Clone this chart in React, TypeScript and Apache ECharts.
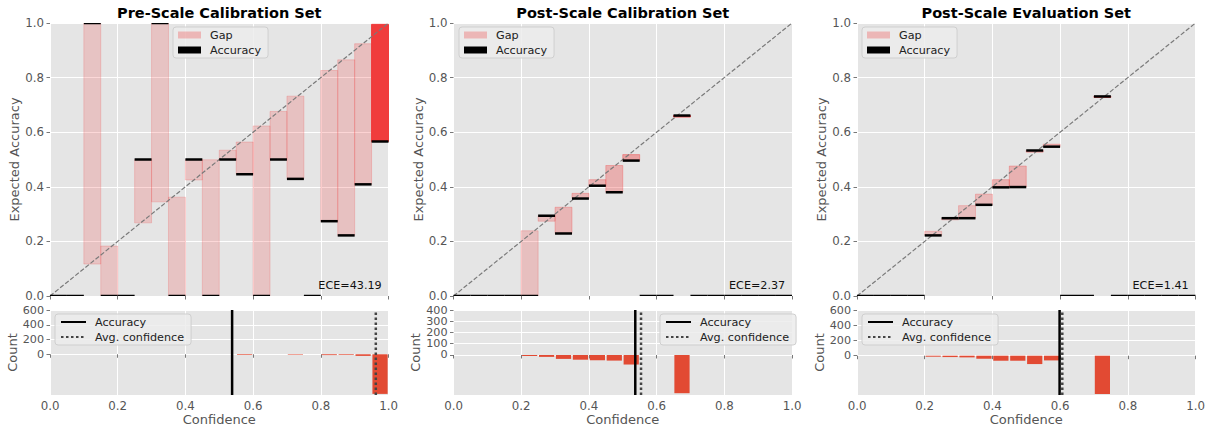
import React, { useEffect, useRef } from "react";
import * as echarts from "echarts";

// ---------------- data ----------------
const BIN_LOWER = [0.0, 0.05, 0.1, 0.15, 0.2, 0.25, 0.3, 0.35, 0.4, 0.45, 0.5, 0.55, 0.6, 0.65, 0.7, 0.75, 0.8, 0.85, 0.9, 0.95];
const BIN_WIDTH = 0.05;

const PANEL_TITLES = ["Pre-Scale Calibration Set", "Post-Scale Calibration Set", "Post-Scale Evaluation Set"];

const PRE_CONF = [0, 0, 0.117, 0.183, 0, 0.268, 0.345, 0.362, 0.425, 0.499, 0.534, 0.564, 0.623, 0.676, 0.732, 0, 0.826, 0.865, 0.924, 0.995];
const PRE_ACC = [0, 0, 1.0, 0, 0, 0.5, 1.0, 0, 0.5, 0, 0.5, 0.446, 0, 0.5, 0.429, 0, 0.274, 0.222, 0.409, 0.566];
const PRE_COUNT = [0, 0, 1, 1, 0, 2, 1, 1, 2, 1, 2, 9, 1, 2, 7, 0, 11, 9, 22, 537];

const CAL_CONF = [0, 0, 0, 0, 0.239, 0.274, 0.325, 0.376, 0.426, 0.478, 0.518, 0, 0, 0.656, 0, 0, 0, 0, 0, 0];
const CAL_ACC = [0, 0, 0, 0, 0, 0.294, 0.229, 0.357, 0.404, 0.38, 0.496, 0, 0, 0.661, 0, 0, 0, 0, 0, 0];
const CAL_COUNT = [0, 0, 0, 0, 9, 17, 35, 42, 47, 50, 85, 0, 0, 340, 0, 0, 0, 0, 0, 0];

const EVAL_CONF = [0, 0, 0, 0, 0.237, 0.279, 0.331, 0.373, 0.426, 0.476, 0.527, 0.556, 0, 0, 0.728, 0, 0, 0, 0, 0];
const EVAL_ACC = [0, 0, 0, 0, 0.222, 0.285, 0.285, 0.334, 0.398, 0.399, 0.533, 0.547, 0, 0, 0.731, 0, 0, 0, 0, 0];
const EVAL_COUNT = [0, 0, 0, 0, 13, 18, 22, 40, 66, 66, 110, 62, 0, 0, 503, 0, 0, 0, 0, 0];

const ECE_VALUES = ["43.19", "2.37", "1.41"];
const AVG_ACCURACY = [0.538, 0.537, 0.5985];
const AVG_CONFIDENCE = [0.9625, 0.554, 0.6065];

const ACC_TICKS = [0, 0.2, 0.4, 0.6, 0.8, 1.0];
const COUNT_TICKS = [
  [0, 200, 400, 600],
  [0, 100, 200, 300, 400],
  [0, 200, 400, 600],
];
const COUNT_MIN = [-552, -356, -516];
const COUNT_MAX = [600, 400, 600];

// ---------------- layout / style ----------------
const FONT = "DejaVu Sans";
const GRID_LEFT = [50, 453.5, 857];
const GRID_W = 338.5;
const TOP_Y = 23;
const TOP_H = 273;
const BOT_Y = 310;
const BOT_H = 85;
const TOP_LEGEND_LEFT = [173, 459, 862];
const BOT_LEGEND_LEFT = [55, 660, 862];
const BG = "#E5E5E5";
const TICK_COLOR = "#555555";
const TICK_FS = 11.8;
const COUNT_FS = 11.2;
const LABEL_FS = 13;
const LEGEND_FS = 11.2;

function buildOption() {
  const panels = [
    { conf: PRE_CONF, acc: PRE_ACC, count: PRE_COUNT },
    { conf: CAL_CONF, acc: CAL_ACC, count: CAL_COUNT },
    { conf: EVAL_CONF, acc: EVAL_ACC, count: EVAL_COUNT },
  ];

  const grid: any[] = [];
  const xAxis: any[] = [];
  const yAxis: any[] = [];
  const series: any[] = [];
  const legend: any[] = [];
  const title: any[] = [];
  const graphic: any[] = [];

  const tickStyle = { show: true, length: 3.5, inside: false, lineStyle: { color: TICK_COLOR, width: 0.8 } };
  const splitStyle = { show: true, lineStyle: { color: "#ffffff", width: 1 } };

  panels.forEach((p, i) => {
    const gTop = 2 * i;
    const gBot = 2 * i + 1;
    grid.push({ left: GRID_LEFT[i], top: TOP_Y, width: GRID_W, height: TOP_H, show: true, backgroundColor: BG, borderWidth: 0 });
    grid.push({ left: GRID_LEFT[i], top: BOT_Y, width: GRID_W, height: BOT_H, show: true, backgroundColor: BG, borderWidth: 0 });

    xAxis.push({
      type: "value", gridIndex: gTop, min: 0, max: 1, interval: 0.2,
      axisLine: { show: false }, axisTick: tickStyle,
      axisLabel: { show: false }, splitLine: splitStyle,
    });
    xAxis.push({
      type: "value", gridIndex: gBot, min: 0, max: 1, interval: 0.2,
      axisLine: { show: false }, axisTick: tickStyle,
      axisLabel: {
        show: true, color: TICK_COLOR, fontSize: TICK_FS, fontFamily: FONT, margin: 5,
        showMinLabel: true, showMaxLabel: true,
        formatter: (v: number) => v.toFixed(1),
      },
      splitLine: splitStyle,
      name: "Confidence", nameLocation: "middle", nameGap: 17,
      nameTextStyle: { color: TICK_COLOR, fontSize: LABEL_FS, fontFamily: FONT },
    });
    yAxis.push({
      type: "value", gridIndex: gTop, min: ACC_TICKS[0], max: ACC_TICKS[ACC_TICKS.length - 1], interval: 0.2,
      axisLine: { show: false }, axisTick: tickStyle,
      axisLabel: { color: TICK_COLOR, fontSize: TICK_FS, fontFamily: FONT, margin: 6, formatter: (v: number) => v.toFixed(1) },
      splitLine: splitStyle,
      name: "Expected Accuracy", nameLocation: "middle", nameGap: 28,
      nameTextStyle: { color: TICK_COLOR, fontSize: LABEL_FS, fontFamily: FONT },
    });
    yAxis.push({
      type: "value", gridIndex: gBot, min: COUNT_MIN[i], max: COUNT_MAX[i],
      axisLine: { show: false },
      axisTick: { ...tickStyle, customValues: COUNT_TICKS[i] },
      axisLabel: {
        color: TICK_COLOR, fontSize: COUNT_FS, lineHeight: 10, fontFamily: FONT, margin: 6,
        hideOverlap: false, showMinLabel: true, showMaxLabel: true,
        customValues: COUNT_TICKS[i], formatter: (v: number) => String(Math.abs(v)),
      },
      splitLine: splitStyle,
      name: "Count", nameLocation: "middle", nameGap: 30,
      nameTextStyle: { color: TICK_COLOR, fontSize: LABEL_FS, fontFamily: FONT },
    });

    const maxCount = Math.max(...p.count);

    series.push({
      type: "custom", name: "Gap", xAxisIndex: gTop, yAxisIndex: gTop, clip: true, z: 2,
      itemStyle: { color: "rgba(240,60,60,0.3)" },
      encode: { x: [0, 1], y: [2, 3] },
      data: BIN_LOWER.map((lo, k) => [lo, lo + BIN_WIDTH, Math.min(p.acc[k], p.conf[k]), Math.max(p.acc[k], p.conf[k]), 0.2 + 0.8 * (p.count[k] / maxCount)])
        .filter((_, k) => p.count[k] > 0),
      renderItem: (params: any, api: any) => {
        const a = api.coord([api.value(0), api.value(3)]);
        const b = api.coord([api.value(1), api.value(2)]);
        const c = `rgba(240,60,60,${api.value(4)})`;
        return {
          type: "rect",
          shape: { x: a[0], y: a[1], width: b[0] - a[0], height: b[1] - a[1] },
          style: { fill: c, stroke: c, lineWidth: 1 },
        };
      },
    });
    series.push({
      type: "line", name: "perfect", xAxisIndex: gTop, yAxisIndex: gTop, z: 3, silent: true,
      symbol: "none", data: [[0, 0], [1, 1]],
      lineStyle: { color: "#7a7a7a", width: 1.2, type: [4.5, 2] },
    });
    series.push({
      type: "custom", name: "Accuracy", xAxisIndex: gTop, yAxisIndex: gTop, clip: true, z: 4,
      itemStyle: { color: "#000000" },
      encode: { x: [0, 1], y: 2 },
      data: BIN_LOWER.map((lo, k) => [lo, lo + BIN_WIDTH, p.acc[k]]),
      renderItem: (params: any, api: any) => {
        const a = api.coord([api.value(0), api.value(2)]);
        const b = api.coord([api.value(1), api.value(2)]);
        return {
          type: "rect",
          shape: { x: a[0], y: a[1] - 1.25, width: b[0] - a[0], height: 2.5 },
          style: { fill: "#000000" },
        };
      },
    });
    series.push({
      type: "custom", name: "Count", xAxisIndex: gBot, yAxisIndex: gBot, clip: true, z: 2,
      itemStyle: { color: "#E24A33" },
      encode: { x: [0, 1], y: 2 },
      data: BIN_LOWER.map((lo, k) => [lo + 0.0025, lo + BIN_WIDTH - 0.0025, -p.count[k]]).filter((_, k) => p.count[k] > 0),
      renderItem: (params: any, api: any) => {
        const a = api.coord([api.value(0), 0]);
        const b = api.coord([api.value(1), api.value(2)]);
        const h = b[1] - a[1];
        if (h < 0.5) return null;
        return {
          type: "rect",
          shape: { x: a[0], y: a[1], width: b[0] - a[0], height: h },
          style: { fill: "#E24A33" },
        };
      },
    });
    series.push({
      type: "line", name: "Accuracy line", xAxisIndex: gBot, yAxisIndex: gBot, z: 5,
      symbol: "none", data: [[AVG_ACCURACY[i], COUNT_MIN[i]], [AVG_ACCURACY[i], COUNT_MAX[i]]],
      lineStyle: { color: "#000000", width: 2.5, type: "solid" },
    });
    series.push({
      type: "line", name: "Avg. confidence", xAxisIndex: gBot, yAxisIndex: gBot, z: 5,
      symbol: "none", data: [[AVG_CONFIDENCE[i], COUNT_MIN[i]], [AVG_CONFIDENCE[i], COUNT_MAX[i]]],
      lineStyle: { color: "#444444", width: 2.5, type: [2.5, 2.5] },
    });

    const legendCommon = {
      orient: "vertical", selectedMode: false,
      backgroundColor: "rgba(236,236,236,0.85)", borderColor: "#cfcfcf", borderWidth: 1, borderRadius: 3,
      textStyle: { fontSize: LEGEND_FS, color: "#222", fontFamily: FONT, lineHeight: 12, padding: [0, 0, 0, 4] },
    };
    legend.push({
      ...legendCommon,
      left: TOP_LEGEND_LEFT[i], top: 27,
      icon: "rect", itemWidth: 23, itemHeight: 7, itemGap: 3, padding: [2, 7, 2, 5],
      data: [
        { name: "Gap", itemStyle: { color: "rgba(240,60,60,0.3)", borderWidth: 0 } },
        { name: "Accuracy", itemStyle: { color: "#000000", borderWidth: 0 } },
      ],
    });
    legend.push({
      ...legendCommon,
      left: BOT_LEGEND_LEFT[i], top: 314,
      itemWidth: 25, itemHeight: 10, itemGap: 3, padding: [2, 7, 2, 5],
      itemStyle: { opacity: 0 },
      formatter: (name: string) => (name === "Accuracy line" ? "Accuracy" : name),
      data: ["Accuracy line", "Avg. confidence"],
    });

    title.push({
      text: PANEL_TITLES[i], left: GRID_LEFT[i] + GRID_W / 2, top: 5, textAlign: "center", padding: 0,
      textStyle: { fontSize: 14.5, fontWeight: "bold", color: "#000", fontFamily: FONT },
    });

    graphic.push({
      type: "text",
      x: GRID_LEFT[i] + 0.98 * GRID_W,
      y: TOP_Y + TOP_H - 0.02 * TOP_H,
      z: 10,
      style: {
        text: "ECE=" + ECE_VALUES[i], fill: "#111", fontSize: 11.2, fontFamily: FONT,
        textAlign: "right", textVerticalAlign: "bottom",
      },
    });
  });

  return {
    animation: false,
    backgroundColor: "#ffffff",
    textStyle: { fontFamily: FONT },
    title, grid, xAxis, yAxis, series, legend, graphic,
  };
}

export default function App() {
  const ref = useRef<HTMLDivElement>(null);
  useEffect(() => {
    if (!ref.current) return;
    const chart = echarts.init(ref.current, undefined, { renderer: "svg" });
    chart.setOption(buildOption() as any);
    return () => chart.dispose();
  }, []);
  return <div ref={ref} style={{ position: "fixed", left: 0, top: 0, width: 1211, height: 429 }} />;
}
